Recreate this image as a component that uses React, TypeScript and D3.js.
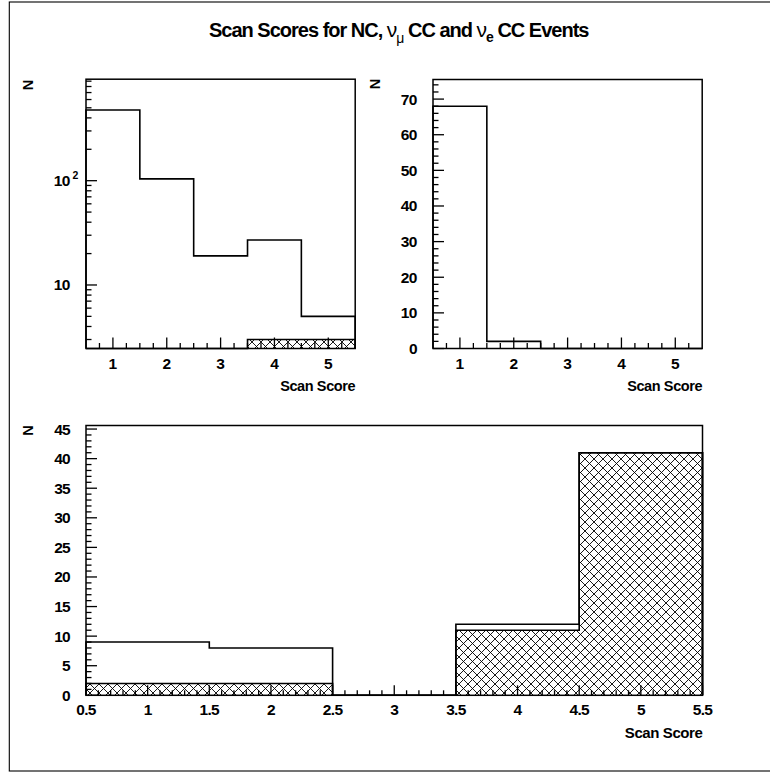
import React from 'react';
import * as d3 from 'd3';

// ---------- data ----------
const scores = [1, 2, 3, 4, 5];
const ncTotal = [476, 104, 19, 27, 5];
const ncHatched = [0, 0, 0, 3, 3];
const numuTotal = [68, 2, 0, 0, 0];
const nueTotal = [9, 8, 0, 12, 41];
const nueHatched = [2, 2, 0, 11, 41];

const topXTicks = [1, 2, 3, 4, 5];
const logYLabelTicks = [10, 100];
const trYTicks = [0, 10, 20, 30, 40, 50, 60, 70];
const bottomXTicks = [0.5, 1, 1.5, 2, 2.5, 3, 3.5, 4, 4.5, 5, 5.5];
const bottomYTicks = [0, 5, 10, 15, 20, 25, 30, 35, 40, 45];

const FONT = '"Liberation Sans", Arial, Helvetica, sans-serif';

function stepPath(vals: number[], x: any, y: any, base: number) {
  const p = d3.path();
  p.moveTo(x(scores[0] - 0.5), base);
  vals.forEach((v, i) => {
    const yy = v > 0 ? y(v) : base;
    p.lineTo(x(scores[i] - 0.5), yy);
    p.lineTo(x(scores[i] + 0.5), yy);
  });
  p.lineTo(x(scores[scores.length - 1] + 0.5), base);
  return p.toString();
}

function range(a: number, b: number, s: number) {
  const out: number[] = [];
  for (let v = a; v <= b + 1e-9; v += s) out.push(+v.toFixed(4));
  return out;
}

export default function App() {
  // frames
  const TL = { x0: 86, x1: 355.2, y0: 79.2, y1: 348.5 };
  const TR = { x0: 433, x1: 702.2, y0: 79.5, y1: 348.5 };
  const B = { x0: 86, x1: 702.5, y0: 425.5, y1: 695.3 };

  const xTL = d3.scaleLinear().domain([0.5, 5.5]).range([TL.x0, TL.x1]);
  const yTL = d3.scaleLog().domain([2.46, 940]).range([TL.y1, TL.y0]);
  const xTR = d3.scaleLinear().domain([0.5, 5.5]).range([TR.x0, TR.x1]);
  const yTR = d3.scaleLinear().domain([0, 75.5]).range([TR.y1, TR.y0]);
  const xB = d3.scaleLinear().domain([0.5, 5.5]).range([B.x0, B.x1]);
  const yB = d3.scaleLinear().domain([0, 45.6]).range([B.y1, B.y0]);

  const lw = 1.6;
  const major = 11;
  const minor = 5.5;

  const logMinors: number[] = [];
  [1, 10, 100].forEach((d) => {
    for (let k = 2; k <= 9; k++) {
      const v = k * d;
      if (v >= 2.46 && v <= 940) logMinors.push(v);
    }
  });

  const xTicksTop = (x: any, F: any) => {
    const minors = range(0.75, 5.25, 0.25).filter((v) => Math.abs(v - Math.round(v)) > 1e-6);
    return (
      <g stroke="#000" strokeWidth={1.3}>
        {topXTicks.map((t) => (
          <line key={'M' + t} x1={x(t)} x2={x(t)} y1={F.y1} y2={F.y1 - major} />
        ))}
        {minors.map((t) => (
          <line key={'m' + t} x1={x(t)} x2={x(t)} y1={F.y1} y2={F.y1 - minor} />
        ))}
      </g>
    );
  };

  const textStyle: any = { fontFamily: FONT, fontWeight: 'bold', fill: '#000' };
  const greek: any = { fontWeight: 'normal', fontFamily: '"Liberation Sans", Arial, sans-serif' };

  return (
    <svg
      width={770}
      height={773}
      style={{ position: 'absolute', left: 0, top: 0, background: '#fff' }}
    >
      <defs>
        <pattern id="hatch" patternUnits="userSpaceOnUse" width={9} height={9}>
          <path d="M0,0 L9,9 M0,9 L9,0" stroke="#000" strokeWidth={0.9} fill="none" />
        </pattern>
      </defs>
      <rect x={0} y={0} width={770} height={773} fill="#fff" />
      <rect x={9.3} y={2} width={770} height={769} fill="none" stroke="#000" strokeWidth={1.1} />

      {/* title */}
      <text x={209} y={36.5} style={{ ...textStyle, fontSize: 20 }} letterSpacing={-1}>
        <tspan>Scan Scores for NC, </tspan>
        <tspan {...greek} fontSize={21}>ν</tspan>
        <tspan {...greek} fontSize={14} dy={6}>μ</tspan>
        <tspan dy={-6}> CC and </tspan>
        <tspan {...greek} fontSize={21}>ν</tspan>
        <tspan fontSize={14} dy={5}>e</tspan>
        <tspan dy={-5}> CC Events</tspan>
      </text>

      {/* ---------- top-left (log) ---------- */}
      <path d={stepPath(ncHatched, xTL, yTL, TL.y1)} fill="url(#hatch)" stroke="#000" strokeWidth={lw} />
      <path d={stepPath(ncTotal, xTL, yTL, TL.y1)} fill="none" stroke="#000" strokeWidth={lw} />
      {xTicksTop(xTL, TL)}
      <g stroke="#000" strokeWidth={1.3}>
        {logYLabelTicks.map((t) => (
          <line key={'M' + t} x1={TL.x0} x2={TL.x0 + major} y1={yTL(t)} y2={yTL(t)} />
        ))}
        {logMinors.map((t) => (
          <line key={'m' + t} x1={TL.x0} x2={TL.x0 + minor} y1={yTL(t)} y2={yTL(t)} />
        ))}
      </g>
      <rect x={TL.x0} y={TL.y0} width={TL.x1 - TL.x0} height={TL.y1 - TL.y0} fill="none" stroke="#000" strokeWidth={1.5} />
      {topXTicks.map((t) => (
        <text key={t} x={xTL(t)} y={368.5} textAnchor="middle" style={{ ...textStyle, fontSize: 15.5 }}>{t}</text>
      ))}
      <text x={70} y={yTL(10) + 5.5} textAnchor="end" style={{ ...textStyle, fontSize: 15.5 }} letterSpacing={-0.5}>10</text>
      <text x={70} y={yTL(100) + 5.5} textAnchor="end" style={{ ...textStyle, fontSize: 15.5 }} letterSpacing={-0.5}>10</text>
      <text x={72.5} y={yTL(100) - 2} style={{ ...textStyle, fontSize: 10.5 }}>2</text>
      <text x={TL.x1} y={390.5} textAnchor="end" style={{ ...textStyle, fontSize: 14.5 }} letterSpacing={-0.4}>Scan Score</text>
      <text transform={`translate(33,85) rotate(-90)`} textAnchor="middle" style={{ ...textStyle, fontSize: 14.5 }}>N</text>

      {/* ---------- top-right ---------- */}
      <path d={stepPath(numuTotal, xTR, yTR, TR.y1)} fill="none" stroke="#000" strokeWidth={lw} />
      {xTicksTop(xTR, TR)}
      <g stroke="#000" strokeWidth={1.3}>
        {trYTicks.map((t) => (
          <line key={'M' + t} x1={TR.x0} x2={TR.x0 + major} y1={yTR(t)} y2={yTR(t)} />
        ))}
        {range(2, 74, 2).filter((v) => v % 10 !== 0).map((t) => (
          <line key={'m' + t} x1={TR.x0} x2={TR.x0 + minor} y1={yTR(t)} y2={yTR(t)} />
        ))}
      </g>
      <rect x={TR.x0} y={TR.y0} width={TR.x1 - TR.x0} height={TR.y1 - TR.y0} fill="none" stroke="#000" strokeWidth={1.5} />
      {topXTicks.map((t) => (
        <text key={t} x={xTR(t)} y={368.5} textAnchor="middle" style={{ ...textStyle, fontSize: 15.5 }}>{t}</text>
      ))}
      {trYTicks.map((t) => (
        <text key={t} x={TR.x0 - 16} y={yTR(t) + 5.5} textAnchor="end" style={{ ...textStyle, fontSize: 15.5 }} letterSpacing={-0.5}>{t}</text>
      ))}
      <text x={TR.x1} y={390.5} textAnchor="end" style={{ ...textStyle, fontSize: 14.5 }} letterSpacing={-0.4}>Scan Score</text>
      <text transform={`translate(380,84) rotate(-90)`} textAnchor="middle" style={{ ...textStyle, fontSize: 14.5 }}>N</text>

      {/* ---------- bottom ---------- */}
      <path d={stepPath(nueHatched, xB, yB, B.y1)} fill="url(#hatch)" stroke="#000" strokeWidth={lw} />
      <path d={stepPath(nueTotal, xB, yB, B.y1)} fill="none" stroke="#000" strokeWidth={lw} />
      <g stroke="#000" strokeWidth={1.3}>
        {bottomXTicks.map((t) => (
          <line key={'M' + t} x1={xB(t)} x2={xB(t)} y1={B.y1} y2={B.y1 - 10} />
        ))}
        {range(0.6, 5.4, 0.1).filter((v) => Math.abs(v * 2 - Math.round(v * 2)) > 1e-6).map((t) => (
          <line key={'m' + t} x1={xB(t)} x2={xB(t)} y1={B.y1} y2={B.y1 - 5} />
        ))}
        {bottomYTicks.map((t) => (
          <line key={'My' + t} x1={B.x0} x2={B.x0 + major} y1={yB(t)} y2={yB(t)} />
        ))}
        {range(1, 45, 1).filter((v) => v % 5 !== 0).map((t) => (
          <line key={'my' + t} x1={B.x0} x2={B.x0 + minor} y1={yB(t)} y2={yB(t)} />
        ))}
      </g>
      <rect x={B.x0} y={B.y0} width={B.x1 - B.x0} height={B.y1 - B.y0} fill="none" stroke="#000" strokeWidth={1.5} />
      {bottomXTicks.map((t) => (
        <text key={t} x={xB(t)} y={715} textAnchor="middle" style={{ ...textStyle, fontSize: 15.5 }} letterSpacing={-0.7}>{t}</text>
      ))}
      {bottomYTicks.map((t) => (
        <text key={t} x={70} y={yB(t) + 5.5} textAnchor="end" style={{ ...textStyle, fontSize: 15.5 }} letterSpacing={-0.7}>{t}</text>
      ))}
      <text x={B.x1} y={738} textAnchor="end" style={{ ...textStyle, fontSize: 15 }} letterSpacing={-0.4}>Scan Score</text>
      <text transform={`translate(32.5,430.5) rotate(-90)`} textAnchor="middle" style={{ ...textStyle, fontSize: 14.5 }}>N</text>
    </svg>
  );
}
